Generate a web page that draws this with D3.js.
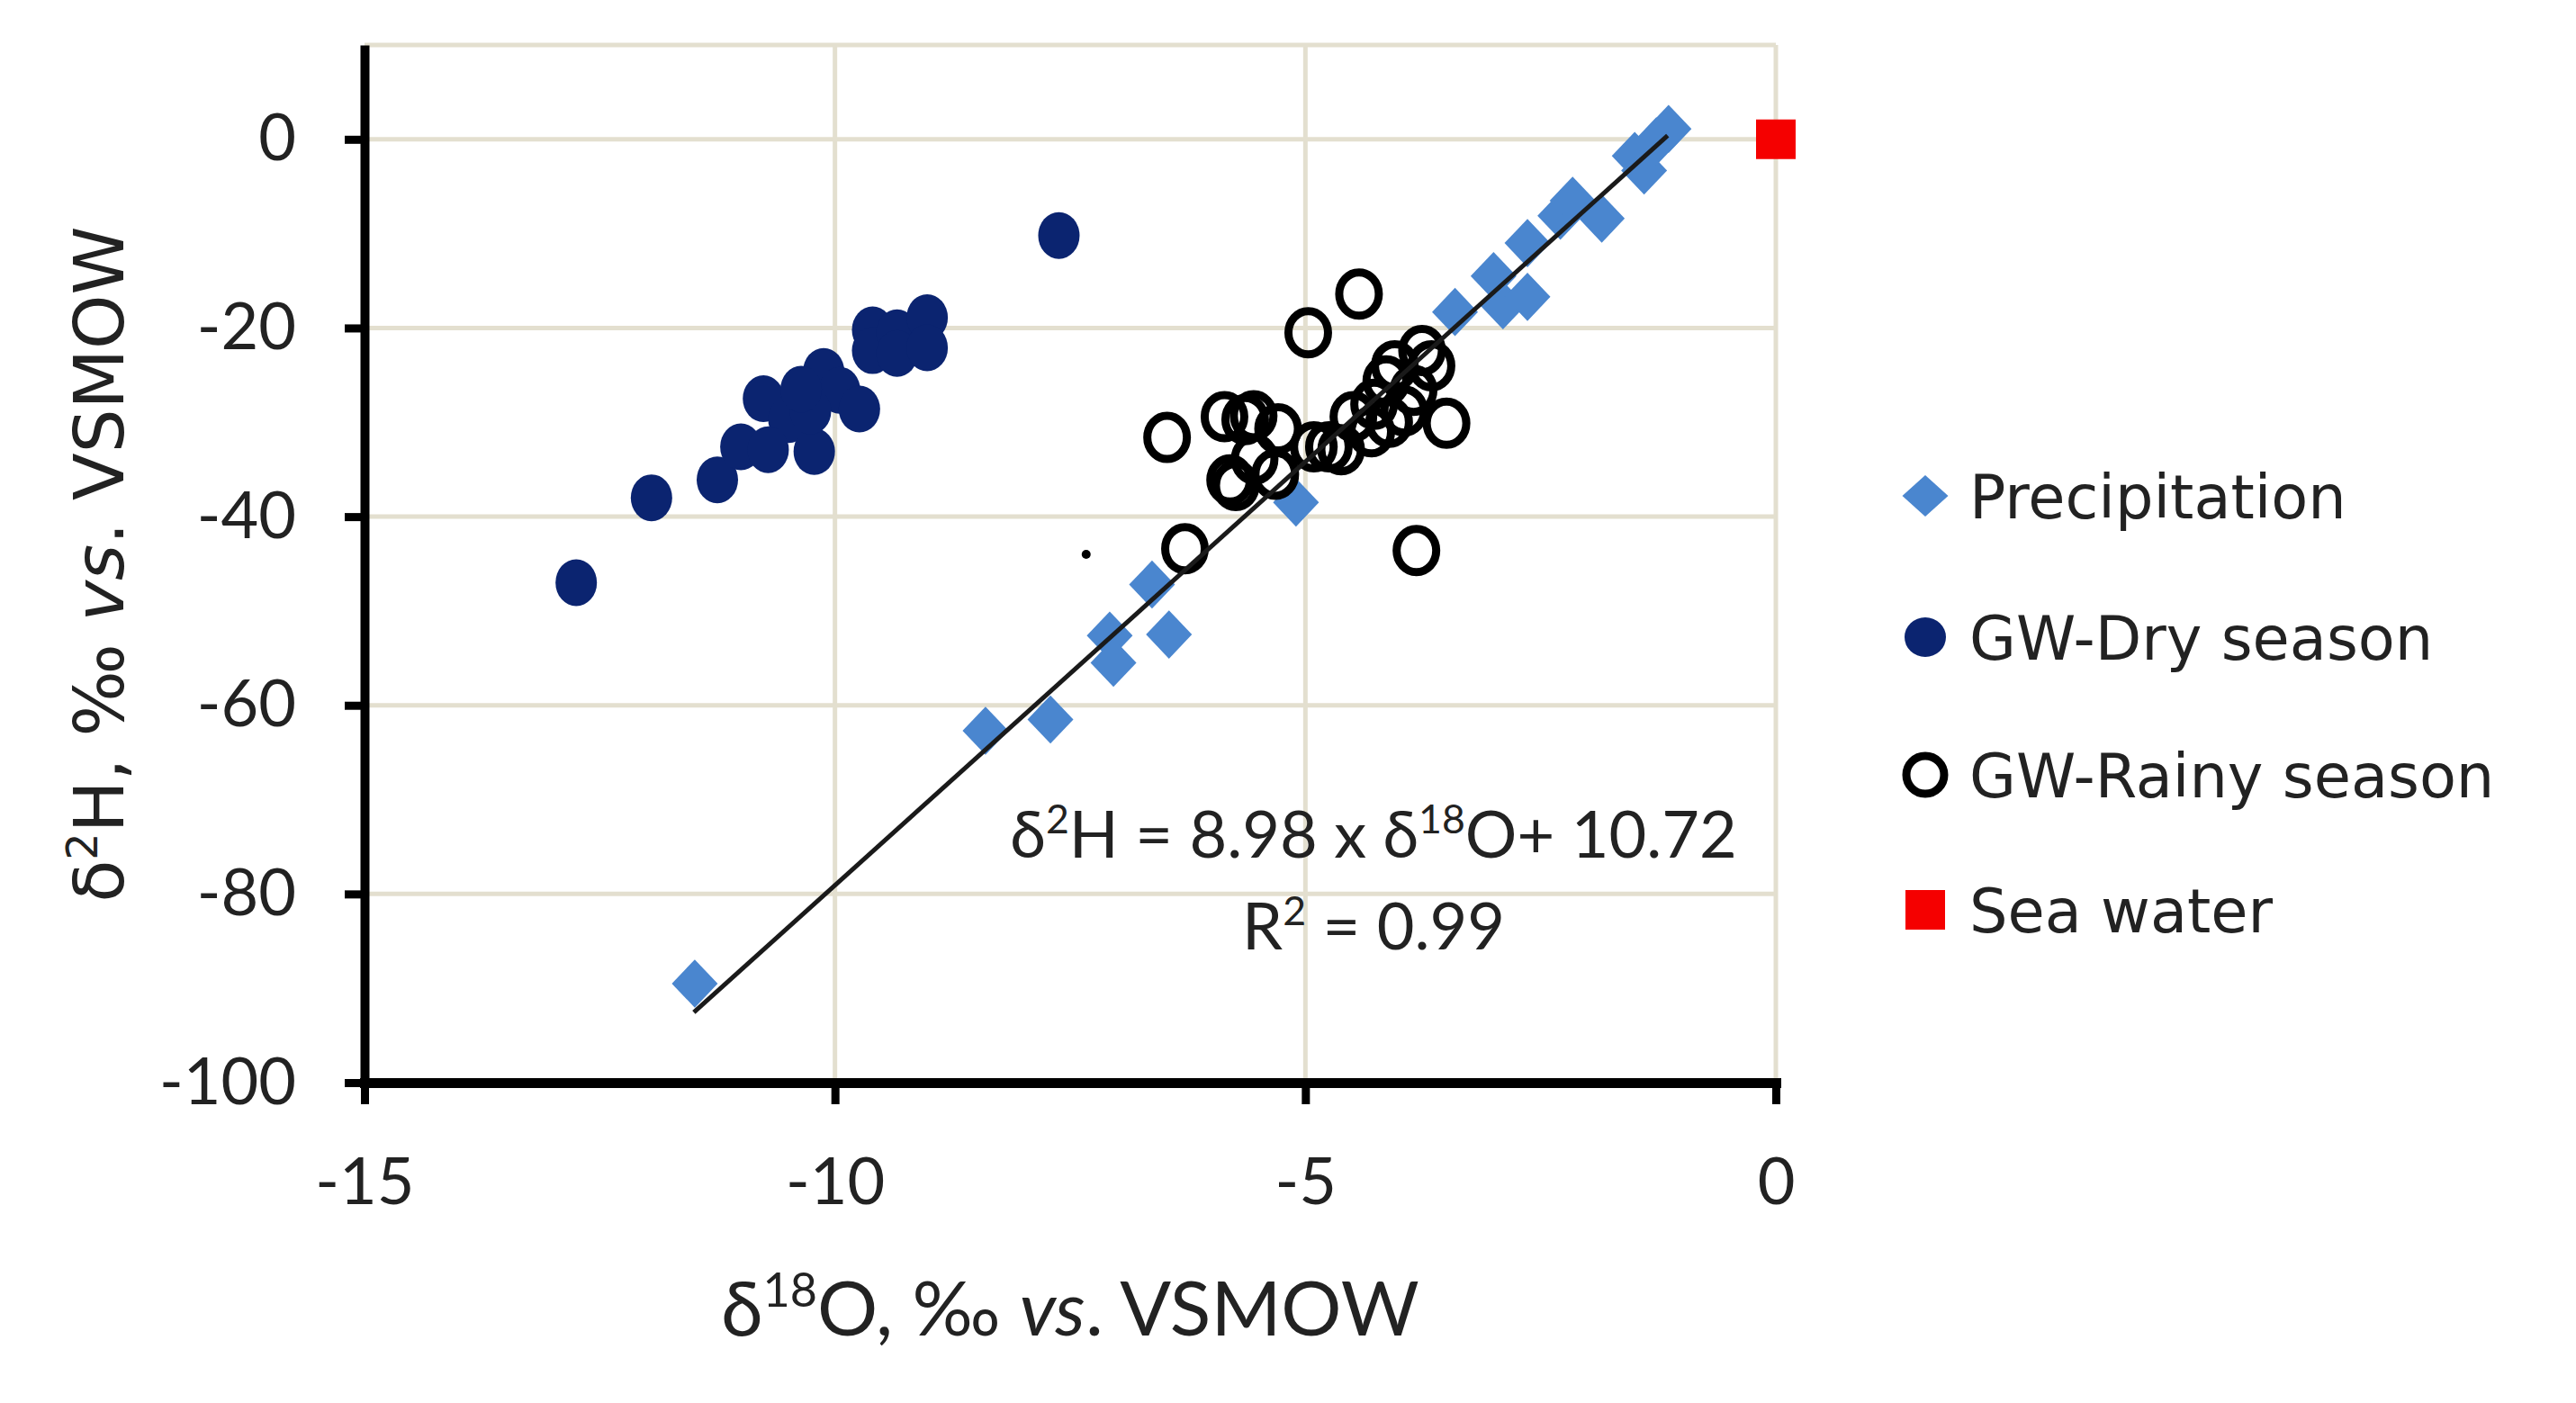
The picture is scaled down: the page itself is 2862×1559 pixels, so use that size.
<!DOCTYPE html>
<html>
<head>
<meta charset="utf-8">
<script src="https://cdn.jsdelivr.net/npm/d3@7"></script>
<style>
  body { margin: 0; background: #fff; }
  svg { display: block; }
</style>
</head>
<body>
<div id="chart"></div>
<script>
// --- data (delta18O, delta2H) ---
const precipitation = [
  [-11.49, -89.5], [-8.40, -62.7], [-7.71, -61.5], [-7.08, -52.6], [-7.04, -55.5],
  [-6.63, -47.2], [-6.45, -52.5], [-5.10, -38.5], [-3.41, -18.3], [-3.00, -14.5],
  [-2.90, -17.6], [-2.64, -16.7], [-2.64, -11.0], [-2.29, -8.1], [-2.16, -6.5],
  [-1.85, -8.4], [-1.50, -1.75], [-1.40, -3.3], [-1.27, -0.2], [-1.14, 1.1]
];
const gwDry = [
  [-12.75, -47.0], [-11.95, -38.0], [-11.25, -36.1], [-11.00, -32.6], [-10.76, -27.5],
  [-10.49, -29.7], [-10.71, -32.9], [-10.22, -33.1], [-10.12, -24.6], [-9.95, -26.6],
  [-9.74, -28.6], [-10.26, -28.8], [-10.36, -26.5], [-9.60, -20.2], [-9.60, -22.4],
  [-9.34, -20.5], [-9.34, -22.7], [-9.02, -18.9], [-9.02, -22.1], [-7.62, -10.2]
];
const gwRainy = [
  [-4.43, -16.4], [-4.97, -20.5], [-6.47, -31.6], [-5.86, -29.4], [-5.64, -29.7],
  [-5.55, -29.3], [-5.29, -30.7], [-5.80, -36.1], [-5.74, -36.7], [-5.54, -33.9],
  [-5.32, -35.5], [-4.91, -32.6], [-4.75, -32.6], [-4.62, -32.9], [-4.49, -29.4],
  [-4.27, -28.1], [-4.14, -25.6], [-4.05, -24.0], [-3.76, -22.4], [-3.66, -24.0],
  [-3.95, -28.8], [-3.85, -26.6], [-3.50, -30.1], [-4.11, -30.0], [-4.30, -31.0],
  [-6.28, -43.4], [-3.82, -43.6]
];
const seaWater = [[0, 0]];
const strayDot = [[-7.33, -44.0]];

// regression line of precipitation
const fitSlope = 8.98;
const fitIntercept = 10.72;
const fitRange = [-11.5, -1.15];

const xTicks = [-15, -10, -5, 0];
const yTicks = [-100, -80, -60, -40, -20, 0];
const legendLabels = ['Precipitation', 'GW-Dry season', 'GW-Rainy season', 'Sea water'];

const width = 2862, height = 1559;
const plot = { left: 405, right: 1973, top: 50, bottom: 1203 };

const svg = d3.select('#chart').append('svg')
  .attr('width', width)
  .attr('height', height);

svg.append('rect').attr('width', width).attr('height', height).attr('fill', '#fff');

const x = d3.scaleLinear().domain([-15, 0]).range([plot.left, plot.right]);
const y = d3.scaleLinear().domain([-100, 10]).range([plot.bottom, plot.top]);

// gridlines
const grid = svg.append('g').attr('stroke', '#e3dfcf').attr('stroke-width', 5);
grid.selectAll('.hg')
  .data(yTicks.filter(d => d > -100).concat([10]))
  .enter().append('line')
  .attr('x1', plot.left).attr('x2', x(0))
  .attr('y1', d => y(d)).attr('y2', d => y(d));
grid.selectAll('.vg')
  .data(xTicks.filter(d => d > -15))
  .enter().append('line')
  .attr('x1', d => x(d)).attr('x2', d => x(d))
  .attr('y1', y(10)).attr('y2', plot.bottom);

// axes
const tickFont = 'Lato, "Open Sans", sans-serif';
const plainFormat = d => String(d);

const yAxis = svg.append('g')
  .attr('transform', `translate(${plot.left},0)`)
  .call(d3.axisLeft(y).tickValues(yTicks).tickFormat(plainFormat)
    .tickSize(22).tickSizeOuter(0).tickPadding(54));
yAxis.select('.domain').attr('stroke', '#000').attr('stroke-width', 10);
yAxis.selectAll('.tick line').attr('stroke', '#000').attr('stroke-width', 9);
yAxis.selectAll('.tick text')
  .attr('font-family', tickFont).attr('font-size', 72).attr('fill', '#222');

const xAxis = svg.append('g')
  .attr('transform', `translate(0,${plot.bottom})`)
  .call(d3.axisBottom(x).tickValues(xTicks).tickFormat(plainFormat)
    .tickSize(24).tickSizeOuter(0).tickPadding(60));
xAxis.select('.domain').attr('stroke', '#000').attr('stroke-width', 11).attr('stroke-linecap', 'square');
xAxis.selectAll('.tick line').attr('stroke', '#000').attr('stroke-width', 9);
xAxis.selectAll('.tick text')
  .attr('font-family', tickFont).attr('font-size', 72).attr('fill', '#222');

// rich text helper: parts = [text, {sup: '2'}, {it: 'vs'}, ...]
function rich(sel, parts, size) {
  let raised = false;
  parts.forEach(p => {
    const t = sel.append('tspan');
    if (typeof p === 'string') {
      t.text(p);
      if (raised) { t.attr('dy', size * 0.38); raised = false; }
    } else if (p.sup) {
      t.text(p.sup).attr('font-size', size * 0.62).attr('dy', -size * 0.38);
      raised = true;
    } else if (p.it) {
      t.text(p.it).attr('font-style', 'italic');
      if (raised) { t.attr('dy', size * 0.38); raised = false; }
    }
  });
}

// axis titles
const xTitle = svg.append('text')
  .attr('x', 1189).attr('y', 1484)
  .attr('text-anchor', 'middle')
  .attr('font-family', tickFont).attr('font-size', 84).attr('fill', '#222');
rich(xTitle, ['δ', {sup: '18'}, 'O, ‰ ', {it: 'vs'}, '. VSMOW'], 84);

const yTitle = svg.append('text')
  .attr('transform', 'translate(137,627) rotate(-90)')
  .attr('text-anchor', 'middle')
  .attr('font-family', '"DejaVu Sans", Verdana, sans-serif').attr('font-size', 77).attr('fill', '#222');
rich(yTitle, ['δ', {sup: '2'}, 'H, ‰ ', {it: 'vs'}, '. VSMOW'], 77);

// markers
const diamond = d3.symbol().type(d3.symbolSquare).size(1300);
const square = d3.symbol().type(d3.symbolSquare).size(44 * 44);

svg.append('g').selectAll('path')
  .data(precipitation)
  .enter().append('path')
  .attr('d', diamond)
  .attr('transform', d => `translate(${x(d[0])},${y(d[1])}) scale(1,1.05) rotate(45)`)
  .attr('fill', '#4a86cf');

svg.append('g').selectAll('ellipse')
  .data(gwDry)
  .enter().append('ellipse')
  .attr('cx', d => x(d[0])).attr('cy', d => y(d[1]))
  .attr('rx', 23).attr('ry', 26)
  .attr('fill', '#0b2470');

svg.append('g').selectAll('ellipse')
  .data(gwRainy)
  .enter().append('ellipse')
  .attr('cx', d => x(d[0])).attr('cy', d => y(d[1]))
  .attr('rx', 22).attr('ry', 24)
  .attr('fill', 'none').attr('stroke', '#000').attr('stroke-width', 9);

svg.append('g').selectAll('path')
  .data(seaWater)
  .enter().append('path')
  .attr('d', square)
  .attr('transform', d => `translate(${x(d[0])},${y(d[1])})`)
  .attr('fill', '#f50000');

svg.append('g').selectAll('circle')
  .data(strayDot)
  .enter().append('circle')
  .attr('cx', d => x(d[0])).attr('cy', d => y(d[1]))
  .attr('r', 5).attr('fill', '#000');

// regression line
const line = d3.line()
  .x(d => x(d))
  .y(d => y(fitSlope * d + fitIntercept));
svg.append('path')
  .datum(fitRange)
  .attr('d', line)
  .attr('fill', 'none')
  .attr('stroke', '#1a1a1a')
  .attr('stroke-width', 5);

// equation
const eq = svg.append('text')
  .attr('x', 1526).attr('y', 953)
  .attr('text-anchor', 'middle')
  .attr('font-family', tickFont).attr('font-size', 72).attr('fill', '#222');
rich(eq, ['δ', {sup: '2'}, 'H = 8.98 x δ', {sup: '18'}, 'O+ 10.72'], 72);

const r2 = svg.append('text')
  .attr('x', 1526).attr('y', 1055)
  .attr('text-anchor', 'middle')
  .attr('font-family', tickFont).attr('font-size', 72).attr('fill', '#222');
rich(r2, ['R', {sup: '2'}, ' = 0.99'], 72);

// legend
const legendY = [551, 708, 861, 1011];
const legend = svg.append('g');
const item = legend.selectAll('g')
  .data(legendLabels)
  .enter().append('g')
  .attr('transform', (d, i) => `translate(2139,${legendY[i]})`);

item.each(function (d, i) {
  const g = d3.select(this);
  if (i === 0) {
    g.append('path').attr('d', diamond).attr('transform', 'scale(1,0.9) rotate(45)').attr('fill', '#4a86cf');
  } else if (i === 1) {
    g.append('ellipse').attr('rx', 23).attr('ry', 22).attr('fill', '#0b2470');
  } else if (i === 2) {
    g.append('circle').attr('r', 21).attr('fill', 'none').attr('stroke', '#000').attr('stroke-width', 9);
  } else {
    g.append('path').attr('d', square).attr('fill', '#f50000');
  }
});

item.append('text')
  .attr('x', 49).attr('y', 25)
  .attr('font-family', '"DejaVu Sans", Verdana, sans-serif')
  .attr('font-size', 67)
  .attr('fill', '#222')
  .text(d => d);
</script>
</body>
</html>
